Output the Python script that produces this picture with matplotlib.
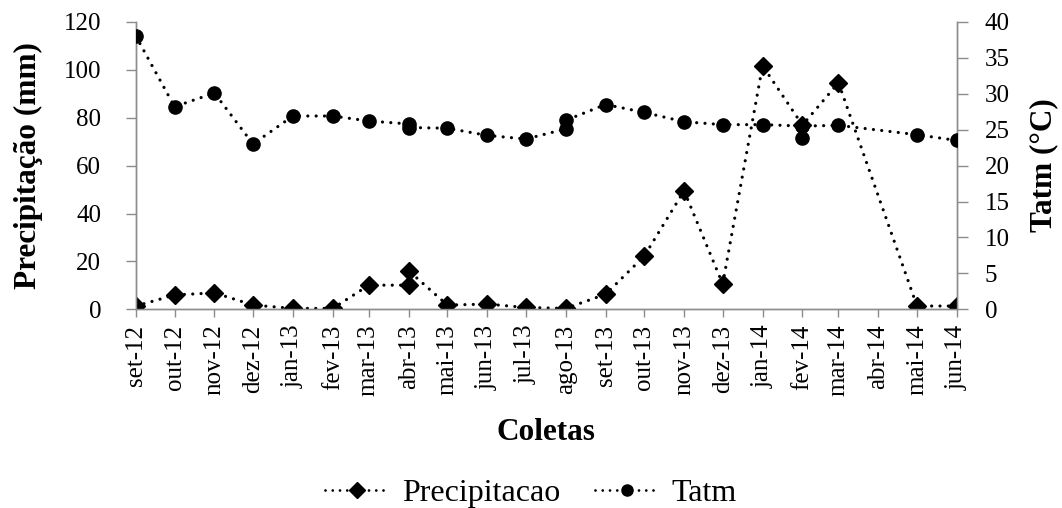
import datetime as dt
import matplotlib
matplotlib.use("Agg")
import matplotlib.pyplot as plt
from matplotlib.lines import Line2D

plt.rcParams["font.family"] = ["Liberation Serif", "DejaVu Serif"]

# monthly collections (some months sampled twice)
prec_dates = ["2012-09", "2012-10", "2012-11", "2012-12", "2013-01", "2013-02",
              "2013-03", "2013-04", "2013-04", "2013-05", "2013-06", "2013-07",
              "2013-08", "2013-09", "2013-10", "2013-11", "2013-12", "2014-01",
              "2014-02", "2014-03", "2014-05", "2014-06"]
prec = [1.4, 6.0, 6.9, 1.8, 0.4, 0.4, 10.1, 10.1, 16.1, 1.8, 2.2, 0.8,
        0.4, 6.3, 22.2, 49.5, 10.6, 101.7, 76.9, 94.6, 1.4, 1.4]

tatm_dates = ["2012-09", "2012-10", "2012-11", "2012-12", "2013-01", "2013-02",
              "2013-03", "2013-04", "2013-04", "2013-05", "2013-06", "2013-07",
              "2013-08", "2013-08", "2013-09", "2013-10", "2013-11", "2013-12",
              "2014-01", "2014-02", "2014-02", "2014-02", "2014-03", "2014-05",
              "2014-06"]
tatm = [38.0, 28.2, 30.1, 23.0, 26.9, 26.9, 26.2, 25.8, 25.3, 25.2, 24.2, 23.7,
        25.1, 26.3, 28.5, 27.4, 26.1, 25.7, 25.7, 25.5, 23.9, 25.5, 25.6, 24.3,
        23.5]

meses = ["jan", "fev", "mar", "abr", "mai", "jun", "jul", "ago", "set", "out", "nov", "dez"]


def to_date(s):
    y, m = s.split("-")
    return dt.date(int(y), int(m), 1)


xp = [to_date(s) for s in prec_dates]
xt = [to_date(s) for s in tatm_dates]
ticks = []
y, m = 2012, 9
while (y, m) <= (2014, 6):
    ticks.append(dt.date(y, m, 1))
    m += 1
    if m > 12:
        m, y = 1, y + 1
tick_labels = [f"{meses[d.month - 1]}-{d.year % 100}" for d in ticks]

GRAY = "#8c8c8c"
dots = (0, (0.01, 2.6))

fig = plt.figure(figsize=(10.62, 5.08), dpi=100)
ax = fig.add_axes([0.128, 0.391, 0.773, 0.566])
ax2 = ax.twinx()

ax.plot(xp, prec, color="black", lw=2.3, linestyle=dots, dash_capstyle="round",
        marker="D", markersize=9, zorder=3)
ax2.plot(xt, tatm, color="black", lw=2.3, linestyle=dots, dash_capstyle="round",
         marker="o", markersize=9.5, zorder=3)

ax.set_xlim(ticks[0], ticks[-1])
ax.set_ylim(0, 120)
ax2.set_ylim(0, 40)
ax.set_yticks(range(0, 121, 20))
ax2.set_yticks(range(0, 41, 5))
ax.set_xticks(ticks)
ax.set_xticklabels(tick_labels, rotation=90)

for a in (ax, ax2):
    a.spines["top"].set_visible(False)
    for s in ("left", "right", "bottom"):
        a.spines[s].set_color(GRAY)
        a.spines[s].set_linewidth(1.0)
    a.tick_params(colors=GRAY, labelcolor="black", labelsize=18, width=1.0)
ax.tick_params(axis="y", length=7, pad=18)
ax2.tick_params(axis="y", length=8, pad=12)
ax.tick_params(axis="x", length=6, pad=5)

ax.set_ylabel("Precipitação (mm)", fontsize=22.5, fontweight="bold", labelpad=15)
ax2.set_ylabel("Tatm (°C)", fontsize=22.5, fontweight="bold", labelpad=14)
ax.set_xlabel("Coletas", fontsize=22.5, fontweight="bold", labelpad=16)

handles = [
    Line2D([], [], color="black", lw=2.0, linestyle=dots, dash_capstyle="round",
           marker="D", markersize=8),
    Line2D([], [], color="black", lw=2.0, linestyle=dots, dash_capstyle="round",
           marker="o", markersize=8),
]
fig.legend(handles, ["Precipitacao", "Tatm"], loc="center", bbox_to_anchor=(0.5, 0.028),
           ncol=2, frameon=False, fontsize=23, handlelength=2.0, handletextpad=0.4,
           columnspacing=1.1, borderpad=0)

fig.savefig("out.png", dpi=100)
